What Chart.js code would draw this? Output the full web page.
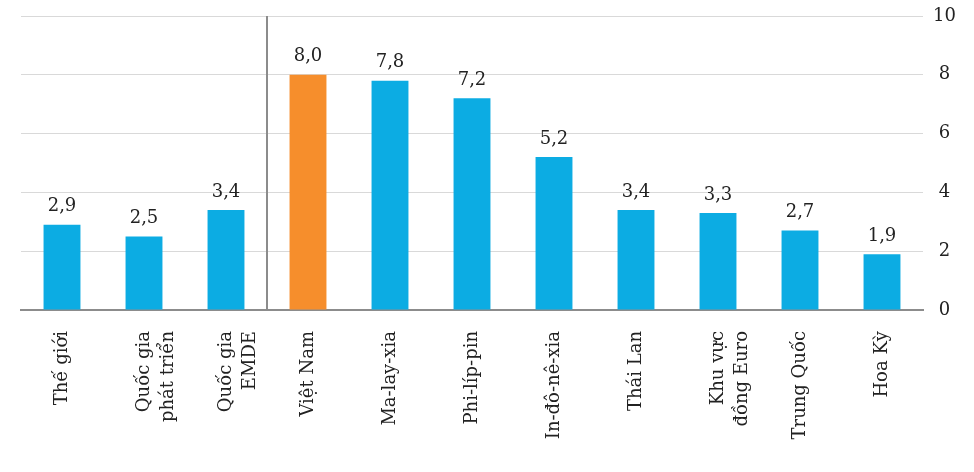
<!DOCTYPE html>
<html>
<head>
<meta charset="utf-8">
<script src="https://cdn.jsdelivr.net/npm/chart.js@4"></script>
<style>
  html, body { margin: 0; padding: 0; background: #fff; }
  #wrap { width: 974px; height: 472px; }
</style>
</head>
<body>
<div id="wrap"><canvas id="chart" width="974" height="472"></canvas></div>
<script>
const categories = [
    'Thế giới',
    ['Quốc gia', 'phát triển'],
    ['Quốc gia', 'EMDE'],
    'Việt Nam',
    'Ma-lay-xia',
    'Phi-líp-pin',
    'In-đô-nê-xia',
    'Thái Lan',
    ['Khu vực', 'đồng Euro'],
    'Trung Quốc',
    'Hoa Kỳ'
];
const values = [2.9, 2.5, 3.4, 8.0, 7.8, 7.2, 5.2, 3.4, 3.3, 2.7, 1.9];
const highlight = 'Việt Nam';
const yTicks = [0, 2, 4, 6, 8, 10];

const blue = '#0cace3';
const orange = '#f68e2c';
const serif = '"DejaVu Serif", "Liberation Serif", serif';

const barColors = categories.map(c => c === highlight ? orange : blue);

// value labels above bars, decimal comma
const valueLabels = {
    id: 'valueLabels',
    afterDatasetsDraw(chart) {
        const ctx = chart.ctx;
        const meta = chart.getDatasetMeta(0);
        ctx.save();
        ctx.font = '18px ' + serif;
        ctx.fillStyle = '#222';
        ctx.textAlign = 'center';
        ctx.textBaseline = 'bottom';
        meta.data.forEach((bar, i) => {
            ctx.fillText(values[i].toFixed(1).replace('.', ','), bar.x, bar.y - 9);
        });
        ctx.restore();
    }
};

// vertical divider between the aggregates and the countries
const divider = {
    id: 'divider',
    afterDatasetsDraw(chart) {
        const x = chart.scales.x;
        const area = chart.chartArea;
        const px = (x.getPixelForValue(2) + x.getPixelForValue(3)) / 2;
        const ctx = chart.ctx;
        ctx.save();
        ctx.strokeStyle = '#8c8c8c';
        ctx.lineWidth = 2;
        ctx.beginPath();
        ctx.moveTo(px, area.top);
        ctx.lineTo(px, area.bottom);
        ctx.stroke();
        ctx.restore();
    }
};

new Chart(document.getElementById('chart'), {
    type: 'bar',
    data: {
        labels: categories,
        datasets: [{
            data: values,
            backgroundColor: barColors,
            categoryPercentage: 1,
            barPercentage: 0.45
        }]
    },
    options: {
        responsive: false,
        animation: false,
        layout: { padding: { left: 21, top: 16, right: 0, bottom: 0 } },
        plugins: {
            legend: { display: false },
            tooltip: { enabled: false }
        },
        scales: {
            x: {
                grid: { display: false, drawTicks: false },
                border: { color: '#8c8c8c', width: 2 },
                ticks: {
                    minRotation: 90,
                    maxRotation: 90,
                    padding: 21,
                    color: '#222',
                    font: { family: serif, size: 18, lineHeight: 1.35 }
                },
                afterFit(scale) {
                    scale.height = 162;
                    scale.paddingLeft = 0;
                    scale.paddingRight = 0;
                }
            },
            y: {
                position: 'right',
                min: 0,
                max: 10,
                afterBuildTicks(scale) { scale.ticks = yTicks.map(v => ({ value: v })); },
                grid: {
                    color: ctx => ctx.tick && ctx.tick.value === 0 ? 'rgba(0,0,0,0)' : '#d9d9d9',
                    drawTicks: false
                },
                border: { display: false },
                ticks: {
                    padding: 10,
                    crossAlign: 'center',
                    color: '#222',
                    font: { family: serif, size: 18 }
                },
                afterFit(scale) {
                    scale.width = 51;
                    scale.paddingTop = 0;
                    scale.paddingBottom = 0;
                }
            }
        }
    },
    plugins: [valueLabels, divider]
});
</script>
</body>
</html>
